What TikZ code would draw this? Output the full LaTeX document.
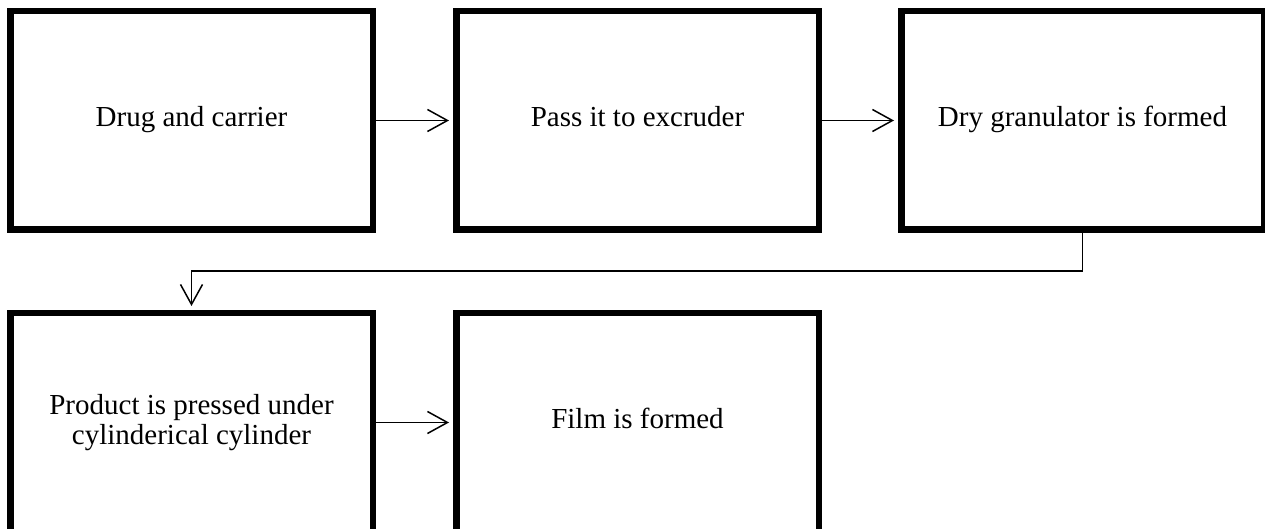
\documentclass[tikz,border=0pt]{standalone}
\usepackage{fontspec}
\setmainfont{Liberation Serif}
\usetikzlibrary{arrows.meta}
\tikzset{
  stepbox/.style={rectangle, draw, line width=3.25pt, minimum width=181.25pt,
    minimum height=109.25pt, align=center, font=\fontsize{14.5}{15}\selectfont},
  oneline/.style={stepbox, text height=0.7em, text depth=0.12em},
  flow/.style={line width=0.75pt, -{Straight Barb[length=10pt, width=11pt, line width=0.75pt]}, shorten >=2pt}
}
\begin{document}
\begin{tikzpicture}[x=0.5pt, y=-0.5pt]
        \useasboundingbox (0,0) rectangle (1265,529);
        \clip (0,0) rectangle (1265,529);
        \node[oneline] (b1) at (191.5, 120.5) {Drug and carrier};
        \node[oneline] (b2) at (637.5, 120.5) {Pass it to excruder};
        \node[oneline] (b3) at (1082.5, 120.5) {Dry granulator is formed};
        \node[stepbox] (b4) at (191.5, 422.5) {Product is pressed under\\cylinderical cylinder};
        \node[oneline] (b5) at (637.5, 422.5) {Film is formed};
        \coordinate (turn) at (0, 271);
        \draw[flow] (b1) -- (b2);
        \draw[flow] (b2) -- (b3);
        \draw[flow] (b3.south) -- (b3.south |- turn) -- (b4.north |- turn) -- (b4.north);
        \draw[flow] (b4) -- (b5);
    \end{tikzpicture}
\end{document}
